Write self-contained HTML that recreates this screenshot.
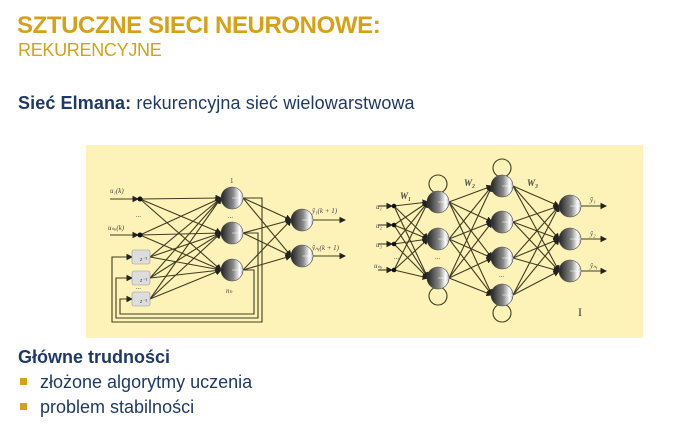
<!DOCTYPE html>
<html><head><meta charset="utf-8"><style>
body{margin:0;width:676px;height:447px;background:#fff;overflow:hidden;position:relative;font-family:"Liberation Sans",sans-serif}
.t{position:absolute;white-space:nowrap}
</style></head><body>
<div class="t" style="left:17px;top:12px;font-size:24px;font-weight:bold;color:#D6A118;letter-spacing:-0.4px">SZTUCZNE SIECI NEURONOWE:</div>
<div class="t" style="left:18px;top:40px;font-size:18px;color:#D6A118;letter-spacing:-0.3px">REKURENCYJNE</div>
<div class="t" style="left:18px;top:93px;font-size:18px;color:#1F3A68;letter-spacing:0.1px"><b>Sieć Elmana:</b> rekurencyjna sieć wielowarstwowa</div>
<div class="t" style="left:18px;top:347px;font-size:18px;font-weight:bold;color:#1F3A68">Główne trudności</div>
<div class="t" style="left:20px;top:378px;width:7px;height:7px;background:#D6A118"></div>
<div class="t" style="left:40px;top:372px;font-size:18px;color:#1F3A68">złożone algorytmy uczenia</div>
<div class="t" style="left:20px;top:403px;width:7px;height:7px;background:#D6A118"></div>
<div class="t" style="left:40px;top:397px;font-size:18px;color:#1F3A68">problem stabilności</div>
<svg class="t" style="left:0;top:0" width="676" height="447">
<defs>
<linearGradient id="g" x1="0" x2="1" y1="0" y2="0"><stop offset="0" stop-color="#222"/><stop offset="0.55" stop-color="#888"/><stop offset="0.85" stop-color="#fff"/><stop offset="1" stop-color="#bbb"/></linearGradient>
<marker id="a" markerWidth="6" markerHeight="6" refX="5" refY="3" orient="auto"><path d="M0,0L6,3L0,6z" fill="#222"/></marker>
</defs>
<rect x="86" y="145" width="557" height="193" fill="#FDF3B8"/>
<g id="L" stroke="#3f3c22" stroke-width="1.1" fill="none"></g>
<g id="N"></g>
<g font-family="Liberation Serif,serif" font-style="italic" font-size="7" fill="#444">
<text x="110" y="193">u₁(k)</text><text x="108" y="230">uₙᵤ(k)</text>
<text x="136" y="217">...</text><text x="136" y="289">...</text>
<text x="230" y="183" font-style="normal">1</text><text x="228" y="218">...</text><text x="226" y="293">nₕ</text>
<text x="312" y="213">ŷ₁(k + 1)</text><text x="312" y="250">ŷₙᵧ(k + 1)</text>
<text x="376" y="209">u₁</text><text x="376" y="228">u₂</text><text x="376" y="247">u₃</text><text x="374" y="268">uₙᵤ</text>
<text x="435" y="259">...</text><text x="499" y="277">...</text><text x="394" y="259">...</text>
<text x="400" y="199" font-weight="bold" font-size="9">W₁</text><text x="464" y="186" font-weight="bold" font-size="9">W₂</text><text x="527" y="186" font-weight="bold" font-size="9">W₃</text>
<text x="590" y="202">ŷ₁</text><text x="590" y="236">ŷ₂</text><text x="590" y="268">ŷₙᵧ</text>
<text x="140" y="261" font-size="6">z⁻¹</text><text x="140" y="282" font-size="6">z⁻¹</text><text x="140" y="303" font-size="6">z⁻¹</text>
</g>
<text x="578" y="316" font-size="12" fill="#333" font-family="Liberation Serif,serif">I</text>
</svg>
<script>
var L=document.getElementById('L'),N=document.getElementById('N'),ns='http://www.w3.org/2000/svg';
function el(p,t,a){var e=document.createElementNS(ns,t);for(var k in a)e.setAttribute(k,a[k]);p.appendChild(e);return e;}
function ln(x1,y1,x2,y2,m){var e=el(L,'line',{x1:x1,y1:y1,x2:x2,y2:y2});if(m)e.setAttribute('marker-end','url(#a)');}
function nu(x,y){el(N,'circle',{cx:x,cy:y,r:11,fill:'url(#g)',stroke:'#444','stroke-width':0.6});el(N,'line',{x1:x,y1:y,x2:x+11,y2:y,stroke:'#fff','stroke-width':0.5});}
var H=[198,233,270],O=[220,256],I=[[140,199],[140,235],[150,257],[150,278],[150,299]];
I.forEach(function(p){H.forEach(function(h){ln(p[0],p[1],221,h,1)})});
ln(110,199,138,199,1);ln(110,235,138,235,1);
el(N,'circle',{cx:140,cy:199,r:2.5,fill:'#111'});el(N,'circle',{cx:140,cy:235,r:2.5,fill:'#111'});
H.forEach(function(h){O.forEach(function(o){ln(243,h,291,o,1)})});
O.forEach(function(o){ln(313,o,345,o,1)});
[[198,262,322,112,257],[233,258,318,116,278],[270,254,314,120,299]].forEach(function(f){
el(L,'polyline',{points:'243,'+f[0]+' '+f[1]+','+f[0]+' '+f[1]+','+f[2]+' '+f[3]+','+f[2]+' '+f[3]+','+f[4]+' 132,'+f[4],'marker-end':'url(#a)'});});
[257,278,299].forEach(function(y){el(N,'rect',{x:132,y:y-7,width:18,height:14,rx:2,fill:'#ddd',stroke:'#999','stroke-width':0.6})});
H.forEach(function(h){nu(232,h)});O.forEach(function(o){nu(302,o)});
var IN=[206,225,244,270],A=[202,239,278],B=[186,222,258,295],C=[206,239,271];
IN.forEach(function(y){ln(378,y,392,y,1);el(N,'circle',{cx:394,cy:y,r:2.3,fill:'#111'});A.forEach(function(a){ln(394,y,428,a,1)})});
A.forEach(function(a){B.forEach(function(b){ln(449,a,492,b,1)})});
B.forEach(function(b){C.forEach(function(c){ln(513,b,559,c,1)})});
C.forEach(function(c){ln(581,c,606,c,1)});
[[438,184],[438,296],[502,168],[502,313]].forEach(function(c){el(L,'circle',{cx:c[0],cy:c[1],r:9})});
A.forEach(function(a){nu(438,a)});B.forEach(function(b){nu(502,b)});C.forEach(function(c){nu(570,c)});
</script>
</body></html>
